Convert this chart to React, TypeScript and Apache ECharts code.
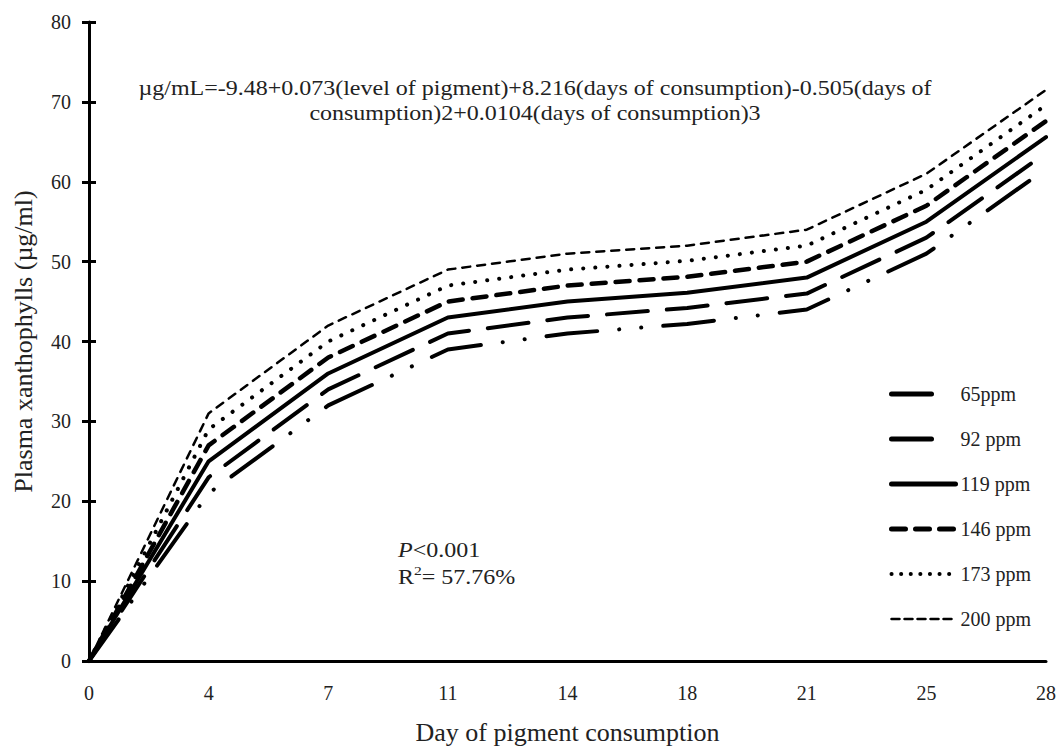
import React, { useEffect, useRef } from "react";
import * as echarts from "echarts";

const days = ["0", "4", "7", "11", "14", "18", "21", "25", "28"];
const seriesNames = ["65ppm", "92 ppm", "119 ppm", "146 ppm", "173 ppm", "200 ppm"];
const ppm65 = [0, 21, 32, 39, 41, 42.2, 44, 51, 61.6];
const ppm92 = [0, 23, 34, 41, 43, 44.2, 46, 53, 63.6];
const ppm119 = [0, 25, 36, 43, 45, 46.1, 48, 55, 65.6];
const ppm146 = [0, 27, 38, 45, 47, 48.1, 50, 57, 67.6];
const ppm173 = [0, 29, 40, 47, 49, 50.1, 52, 59, 69.6];
const ppm200 = [0, 31, 42, 49, 51, 52, 54, 61, 71.5];
const yTicks = { min: 0, max: 80, interval: 10 };

const FONT = "Liberation Serif";

export default function App() {
  const ref = useRef<HTMLDivElement>(null);
  useEffect(() => {
    if (!ref.current) return;
    const chart = echarts.init(ref.current, undefined, { renderer: "svg" });
    const values = [ppm65, ppm92, ppm119, ppm146, ppm173, ppm200];
    const styles: any[] = [
      { width: 4, type: [51, 22, 0.1, 22, 0.1, 22] },
      { width: 4, type: [41, 19] },
      { width: 4, type: "solid" },
      { width: 4.5, type: [14, 10] },
      { width: 4, type: [0.1, 12] },
      { width: 2.5, type: [8, 7] },
    ];
    const legendStyles: any[] = [
      { width: 5, type: [40, 200] },
      { width: 5, type: [40, 200] },
      { width: 5, type: "solid" },
      { width: 5, type: [14, 10] },
      { width: 4, type: [0.1, 9.5] },
      { width: 2.5, type: [8, 5] },
    ];
    chart.setOption({
      animation: false,
      backgroundColor: "#fff",
      textStyle: { fontFamily: FONT },
      grid: { left: 89, right: 13, top: 22, bottom: 84, containLabel: false },
      legend: {
        orient: "vertical",
        left: 884,
        top: 379,
        itemWidth: 64,
        itemHeight: 14,
        itemGap: 25,
        textStyle: { fontFamily: FONT, fontSize: 20, color: "#222" },
        data: seriesNames.map((n, i) => ({
          name: n,
          itemStyle: { opacity: 0 },
          lineStyle: { color: "#000", cap: "round", ...legendStyles[i] },
        })),
      },
      xAxis: {
        type: "category",
        data: days,
        boundaryGap: false,
        name: "Day of pigment consumption",
        nameLocation: "middle",
        nameGap: 58,
        nameTextStyle: { fontFamily: FONT, fontSize: 26, color: "#222" },
        axisLine: { lineStyle: { color: "#000", width: 3 } },
        axisTick: { show: false },
        axisLabel: { fontFamily: FONT, fontSize: 20, color: "#222", margin: 22 },
        splitLine: { show: false },
      },
      yAxis: [
        {
          type: "value",
          ...yTicks,
          name: "Plasma xanthophylls (µg/ml)",
          nameLocation: "middle",
          nameRotate: 90,
          nameGap: 53,
          nameTextStyle: { fontFamily: FONT, fontSize: 26, color: "#222" },
          axisLine: { show: true, lineStyle: { color: "#000", width: 3 } },
          axisTick: { show: true, length: 7, lineStyle: { color: "#000", width: 3 } },
          axisLabel: { fontFamily: FONT, fontSize: 20, color: "#222", margin: 18 },
          splitLine: { show: false },
        },
        {
          type: "value",
          ...yTicks,
          position: "left",
          axisLine: { show: false },
          axisTick: { show: true, inside: true, length: 7, lineStyle: { color: "#000", width: 3 } },
          axisLabel: { show: false },
          splitLine: { show: false },
        },
      ],
      graphic: [
        {
          type: "text",
          x: 535,
          y: 76,
          scaleX: 1.2,
          style: {
            text:
              "µg/mL=-9.48+0.073(level of pigment)+8.216(days of consumption)-0.505(days of\nconsumption)2+0.0104(days of consumption)3",
            fontFamily: FONT,
            fontSize: 20,
            fill: "#222",
            align: "center",
            lineHeight: 25,
          },
        },
        {
          type: "text",
          x: 398,
          y: 537,
          scaleX: 1.2,
          style: {
            text: "{i|P}<0.001\nR{s|2}= 57.76%",
            fontFamily: FONT,
            fontSize: 20,
            fill: "#222",
            lineHeight: 27,
            rich: {
              i: { fontFamily: FONT, fontSize: 20, fontStyle: "italic", fill: "#222" },
              s: { fontFamily: FONT, fontSize: 13, fill: "#222", verticalAlign: "top", padding: [0, 0, 8, 0] },
            },
          },
        },
      ],
      series: values.map((v, i) => ({
        name: seriesNames[i],
        type: "line",
        data: v,
        symbol: "none",
        showSymbol: false,
        lineStyle: { color: "#000", cap: "round", join: "round", ...styles[i] },
      })),
    });
    return () => chart.dispose();
  }, []);
  return (
    <div
      ref={ref}
      style={{ position: "fixed", left: 0, top: 0, width: 1059, height: 750, background: "#fff" }}
    />
  );
}
